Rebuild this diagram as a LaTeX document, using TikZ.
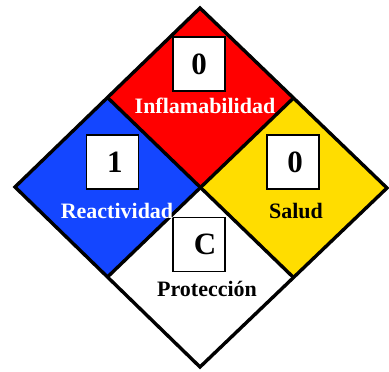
\documentclass[tikz,border=0pt]{standalone}
\usepackage{fontspec}
\setmainfont{Liberation Serif}
\usetikzlibrary{backgrounds}
\pgfdeclarelayer{edgelayer}
\pgfdeclarelayer{nodelayer}
\pgfsetlayers{edgelayer,nodelayer,main}
\definecolor{flamred}{RGB}{255,0,0}
\definecolor{reactblue}{RGB}{20,70,255}
\definecolor{healthyellow}{RGB}{255,221,0}
\tikzset{font=\bfseries}
\tikzstyle{none}=[inner sep=0pt]
\tikzstyle{edge}=[line width=3.4pt,line join=miter]
\tikzstyle{numbox}=[draw,fill=white,line width=1.8pt,minimum width=52pt,minimum height=54pt,inner sep=0pt,font=\fontsize{31}{31}\selectfont\bfseries]
\tikzstyle{lbl}=[anchor=base,inner sep=0pt,font=\fontsize{22}{22}\selectfont\bfseries]

\begin{document}
\begin{tikzpicture}[x=1pt,y=-1pt]
	\useasboundingbox (0,0) rectangle (389,372);
	\begin{pgfonlayer}{nodelayer}
		\node [style=none] (0) at (200, 8) {};
		\node [style=none] (1) at (15, 187) {};
		\node [style=none] (2) at (387, 188) {};
		\node [style=none] (3) at (200, 367) {};
		\node [style=none] (4) at (200.5, 187.7) {};
		\node [style=none] (5) at (107.5, 97.5) {};
		\node [style=none] (6) at (293.5, 98) {};
		\node [style=none] (7) at (107.5, 277) {};
		\node [style=none] (8) at (293.5, 277.5) {};
		\node [style=numbox] (flam) at (199, 64) {0};
		\node [style=numbox] (react) at (112.5, 162) {\kern5pt 1};
		\node [style=numbox] (health) at (293, 162) {\kern4pt 0};
		\node [style=numbox] (prot) at (199, 244.5) {\kern12pt C};
		\node [style=lbl, text=white] (flamlbl) at (205, 113) {Inflamabilidad};
		\node [style=lbl, text=white] (reactlbl) at (117, 218) {Reactividad};
		\node [style=lbl] (healthlbl) at (296, 218) {Salud};
		\node [style=lbl] (protlbl) at (207, 296) {Protección};
	\end{pgfonlayer}
	\begin{pgfonlayer}{edgelayer}
		\fill [flamred] (0.center) -- (6.center) -- (4.center) -- (5.center) -- cycle;
		\fill [reactblue] (5.center) -- (4.center) -- (7.center) -- (1.center) -- cycle;
		\fill [healthyellow] (6.center) -- (2.center) -- (8.center) -- (4.center) -- cycle;
		\fill [white] (4.center) -- (8.center) -- (3.center) -- (7.center) -- cycle;
		\draw [style=edge] (0.center) -- (2.center) -- (3.center) -- (1.center) -- cycle;
		\draw [style=edge] (5.center) to (8.center);
		\draw [style=edge] (6.center) to (7.center);
	\end{pgfonlayer}
\end{tikzpicture}
\end{document}
